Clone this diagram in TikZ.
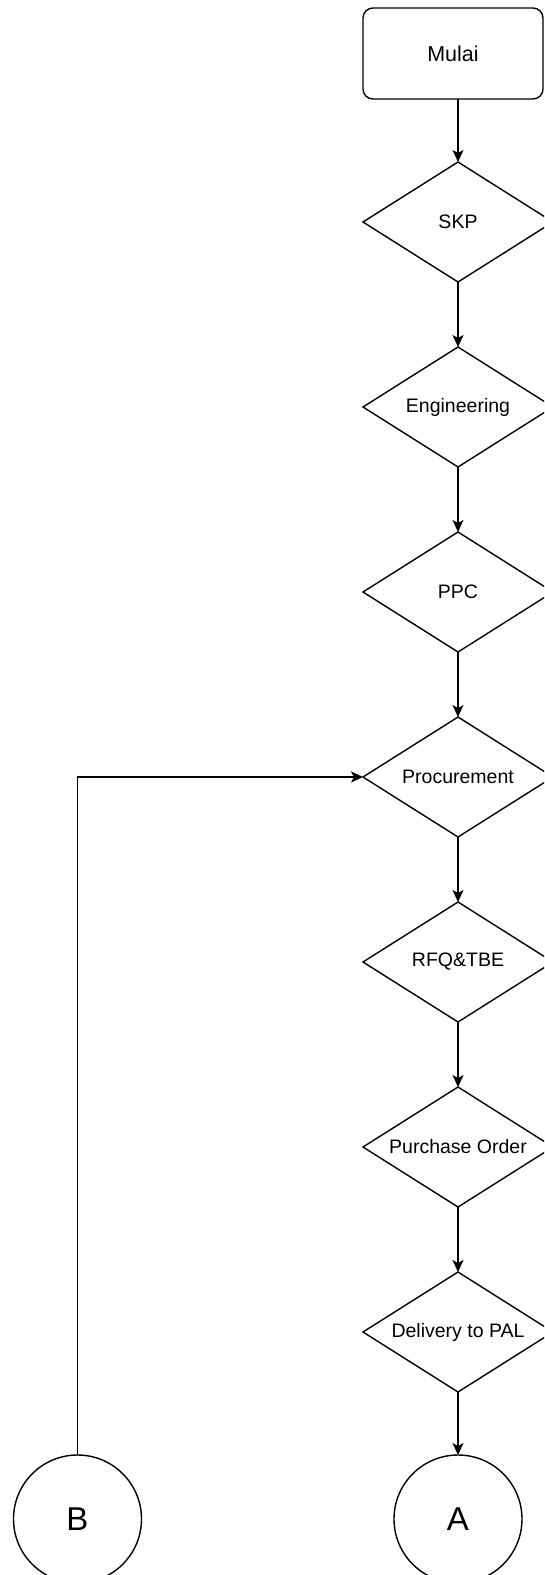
\documentclass[tikz,border=0pt]{standalone}
\usepackage{fontspec}
\setmainfont{Liberation Sans}
\usetikzlibrary{shapes.geometric,arrows.meta}
\begin{document}
\begin{tikzpicture}[x=1pt,y=-1pt,line width=1.4pt,
	startbox/.style={draw,rounded corners=10pt,minimum width=180pt,minimum height=91pt,inner sep=0pt,outer sep=0pt,font=\fontsize{21.5}{24}\selectfont},
	decision/.style={draw,diamond,aspect=1.58,minimum width=190pt,minimum height=120pt,inner sep=0pt,outer sep=0pt,font=\fontsize{19.5}{22}\selectfont},
	connector/.style={draw,circle,minimum size=128pt,inner sep=0pt,outer sep=0pt,font=\fontsize{33}{36}\selectfont},
	flow/.style={-{Stealth[length=12pt,width=11pt,inset=3pt]}}]
	\clip (0,0) rectangle (544,1575);
	\node[startbox] (mulai) at (453,53.5) {Mulai};
	\node[decision] (skp) at (458,222) {SKP};
	\node[decision] (eng) at (458,407) {Engineering};
	\node[decision] (ppc) at (458,592) {PPC};
	\node[decision] (proc) at (458,777) {Procurement};
	\node[decision] (rfq) at (458,962) {RFQ\&TBE};
	\node[decision] (po) at (458,1147) {Purchase Order};
	\node[decision] (dpal) at (458,1332) {Delivery to PAL};
	\node[connector] (a) at (458,1519) {A};
	\node[connector] (b) at (77.5,1519) {B};
	\draw[flow] (mulai.south -| skp.north)--(skp.north);
	\draw[flow] (skp.south)--(eng.north);
	\draw[flow] (eng.south)--(ppc.north);
	\draw[flow] (ppc.south)--(proc.north);
	\draw[flow] (proc.south)--(rfq.north);
	\draw[flow] (rfq.south)--(po.north);
	\draw[flow] (po.south)--(dpal.north);
	\draw[flow] (dpal.south)--(a.north);
	\draw[flow] (b.north) |- (proc.west);
\end{tikzpicture}
\end{document}
